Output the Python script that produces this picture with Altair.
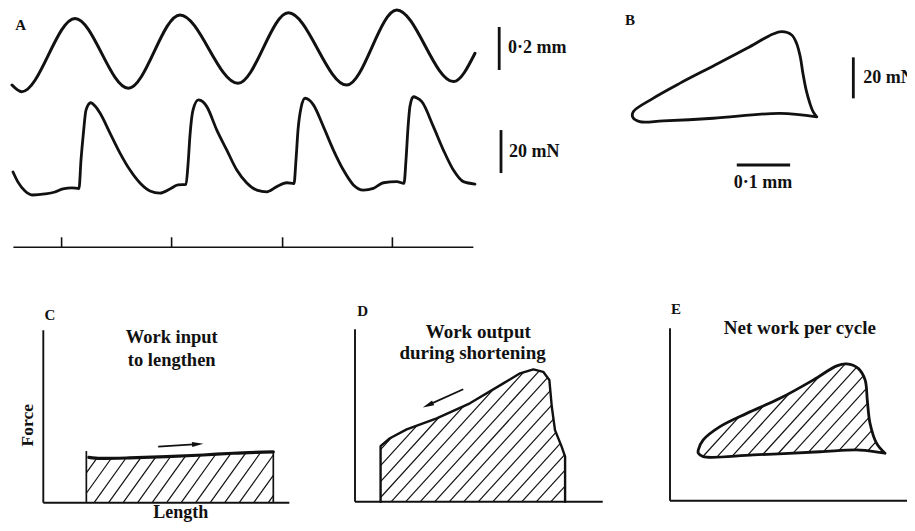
import math
import altair as alt
import pandas as pd

# ---------------- values ----------------
# Panel A, upper trace: imposed length change (mm) against time (ms)
A_len_t = [0, 4.85, 31.5, 58.2, 84, 113, 138.2, 167.4, 192.4, 220.7, 231.5]
A_len_mm = [-0.163, -0.194, 0.147, -0.178, 0.163, -0.155, 0.173, -0.163, 0.186, -0.147, -0.015]

# Panel A, lower trace: force (mN) against time (ms)
A_force_t = [0.5, 3, 6.5, 10.5, 16.5, 21.5, 25.5, 30, 33.5,
             34.5, 35.7, 37, 39.4, 41.5, 44, 49, 54, 59, 64, 69, 74, 79, 83, 87,
             88, 89, 90.5, 93.2, 95.5, 97.4, 102.4, 107.4, 112.4, 117.4, 122.4, 127.4, 132.4, 137.4, 141,
             142, 143, 144.5, 146.5, 148.5, 150.7, 155.7, 160.7, 165.7, 170.7, 175.7, 180.7, 185.7, 192.4, 196,
             197, 198, 199, 200.7, 202.5, 204.9, 210.7, 215.7, 220.7, 225.7, 231.5]
A_force_mN = [10.7, 6.0, 1.9, 0.0, 0.5, 1.4, 2.8, 3.3, 3.0,
              16.3, 28.8, 39.5, 42.9, 41.4, 38.1, 28.8, 19.5, 11.6, 5.6, 1.9, 0.9, 2.8, 4.7, 4.9,
              14.0, 27.9, 39.5, 44.2, 43.3, 41.1, 30.2, 20.9, 11.6, 5.6, 2.3, 1.5, 3.9, 5.7, 5.3,
              16.3, 30.2, 40.5, 45.0, 44.2, 41.9, 31.8, 20.9, 11.6, 4.7, 2.3, 3.1, 5.7, 6.2, 5.4,
              16.3, 31.2, 41.4, 45.7, 45.1, 43.4, 31.8, 20.9, 11.6, 6.2, 5.1]

# Panel A, stimulus marker line (ms)
A_stim_t = [24.8, 79.8, 135.3, 190.2]
A_time_span = [0.7, 230.7]

# Scale bars of panel A
A_len_bar_mm = [-0.093, 0.107]      # 0·2 mm
A_force_bar_mN = [10.2, 30.2]       # 20 mN

# Panel B: work loop, force (mN) against length (mm)
B_len_mm = [0.174, 0.167, 0.161, 0.154, 0.148, 0.143, 0.136, 0.127, 0.108, 0.092, 0.043,
            -0.020, -0.083, -0.133, -0.170, -0.171, -0.158, -0.114, -0.020, 0.105, 0.174]
B_force_mN = [4.0, 6.5, 10.6, 17.1, 25.2, 33.3, 39.9, 43.9, 45.5, 44.4, 37.4,
              28.8, 20.3, 13.0, 6.5, 3.8, 1.6, 2.0, 3.3, 5.7, 4.0]
B_force_bar_mN = [13.0, 33.0]       # 20 mN
B_len_bar_mm = [0.024, 0.124]       # 0·1 mm

# Panels C, D, E: schematic force / length (arbitrary units)
C_top_u = [17.5, 18.5, 23.2, 35, 50.2, 65, 77.2, 93.5]
C_top_v = [21.0, 18.4, 18.0, 18.2, 18.7, 19.4, 20.1, 20.7]
C_arrow_u = [46.7, 64.8]
C_arrow_v = [22.8, 23.9]

D_u = [10.4, 10.4, 14.2, 21.0, 33.2, 46.7, 60.3, 67.1, 72.5, 76.5, 79.0, 80.0, 81.3, 84.0, 85.4, 85.4]
D_v = [0, 22.6, 25.8, 29.4, 33.9, 40.0, 48.1, 52.2, 53.8, 52.8, 49.5, 38.6, 29.1, 22.4, 18.3, 0]
D_arrow_u = [44.0, 27.8]
D_arrow_v = [45.7, 38.4]

E_u = [87.4, 84.0, 81.3, 80.2, 79.3, 76.5, 71.8, 67.8, 58.3, 44.7, 31.2, 20.3, 13.5, 11.5, 11.5,
       13.5, 33.9, 61.0, 77.2, 87.4]
E_v = [19.3, 23.3, 31.5, 40.9, 49.1, 53.8, 55.6, 54.8, 49.1, 41.6, 35.5, 30.1, 24.7, 20.6, 19.3,
       17.9, 18.6, 19.9, 20.6, 19.3]

# ---------------- layout (image pixels) ----------------
OFF = 8
INK = "#111111"
FONT = "Liberation Serif"
SCALES = {
    "A_t": ([0, 250], [12, 512]),
    "A_len": ([-0.2, 0.2], [93, 7]),
    "A_force": ([0, 50], [195, 87.5]),
    "A_stim": ([0, 1], [247.3, 237.3]),
    "B_len": ([-0.2, 0.3], [617.3, 884]),
    "B_force": ([-20, 60], [166, 2]),
    "C_u": ([0, 100], [43.3, 289.3]),
    "C_v": ([0, 70], [502.7, 330.5]),
    "D_u": ([0, 100], [355, 601]),
    "D_v": ([0, 70], [501.7, 329.5]),
    "E_u": ([0, 100], [670, 916]),
    "E_v": ([0, 70], [500.7, 328.5]),
}
PX_PER_UNIT = 2.46  # C, D, E


def scale(key):
    dom, rng = SCALES[key]
    return alt.Scale(domain=dom, range=[rng[0] - OFF, rng[1] - OFF], nice=False, zero=False)


def X(field, key):
    return alt.X(field, type="quantitative", scale=scale(key), axis=None)


def Y(field, key):
    return alt.Y(field, type="quantitative", scale=scale(key), axis=None)


def line_layer(xs, ys, xkey, ykey, width, interp="linear"):
    df = pd.DataFrame({"x": xs, "y": ys, "i": list(range(len(xs)))})
    return alt.Chart(df).mark_line(color=INK, strokeWidth=width, interpolate=interp,
                                   strokeCap="round", strokeJoin="round").encode(
        x=X("x", xkey), y=Y("y", ykey), order=alt.Order("i", type="quantitative"))


def rule_layer(segs, xkey, ykey, width):
    df = pd.DataFrame(segs, columns=["x", "y", "x2", "y2"])
    return alt.Chart(df).mark_rule(color=INK, strokeWidth=width, strokeCap="butt").encode(
        x=X("x", xkey), y=Y("y", ykey), x2=alt.X2("x2"), y2=alt.Y2("y2"))


def text_layer(items, xkey, ykey, size=18, align="center", angle=0):
    df = pd.DataFrame(items, columns=["x", "y", "label"])
    kw = dict(font=FONT, fontSize=size, fontWeight="bold", align=align, baseline="middle",
              color=INK)
    if angle:
        kw["angle"] = angle
    return alt.Chart(df).mark_text(**kw).encode(
        x=X("x", xkey), y=Y("y", ykey), text="label:N")


def hatch(us, vs, spacing, slope):
    g = [slope * u - v for u, v in zip(us, vs)]
    step = slope * spacing
    segs = []
    c = math.floor(min(g) / step) * step + step / 2
    n = len(us)
    while c < max(g):
        pts = []
        for i in range(n):
            j = (i + 1) % n
            d1, d2 = g[i] - c, g[j] - c
            if (d1 < 0) != (d2 < 0):
                t = d1 / (d1 - d2)
                pts.append((us[i] + t * (us[j] - us[i]), vs[i] + t * (vs[j] - vs[i])))
        pts.sort()
        for k in range(0, len(pts) - 1, 2):
            segs.append([pts[k][0], pts[k][1], pts[k + 1][0], pts[k + 1][1]])
        c += step
    return segs


ARROW = "M0,-1L0.45,1L-0.45,1Z"


def arrow_layers(us, vs, xkey, ykey):
    du, dv = us[1] - us[0], vs[1] - vs[0]
    ln = math.hypot(du, dv)
    back = 5 / PX_PER_UNIT
    cu, cv = us[1] - du / ln * back, vs[1] - dv / ln * back
    ang = math.degrees(math.atan2(du, dv)) % 360
    shaft = rule_layer([[us[0], vs[0], cu, cv]], xkey, ykey, 1.8)
    df = pd.DataFrame({"x": [cu], "y": [cv], "a": [ang]})
    head = alt.Chart(df).mark_point(shape=ARROW, filled=True, size=130, color=INK, opacity=1,
                                    strokeWidth=0).encode(
        x=X("x", xkey), y=Y("y", ykey), angle=alt.Angle("a", type="quantitative", scale=None))
    return [shaft, head]


layers = []

# ---- Panel A
layers.append(line_layer(A_len_t, A_len_mm, "A_t", "A_len", 3.0, "monotone"))
layers.append(line_layer(A_force_t, A_force_mN, "A_t", "A_force", 2.8, "monotone"))
layers.append(rule_layer([[A_time_span[0], 0, A_time_span[1], 0]] +
                         [[t, 0, t, 1] for t in A_stim_t], "A_t", "A_stim", 1.6))
layers.append(rule_layer([[243.6, A_len_bar_mm[0], 243.6, A_len_bar_mm[1]]], "A_t", "A_len", 2.8))
layers.append(rule_layer([[244.5, A_force_bar_mN[0], 244.5, A_force_bar_mN[1]]], "A_t", "A_force", 2.8))
layers.append(text_layer([[248.0, 0.007, "0·2 mm"]], "A_t", "A_len", 18, "left"))
layers.append(text_layer([[248.5, 20.0, "20 mN"]], "A_t", "A_force", 18, "left"))
layers.append(text_layer([[4.3, 0.115, "A"]], "A_t", "A_len", 15))

# ---- Panel B
layers.append(line_layer(B_len_mm, B_force_mN, "B_len", "B_force", 2.8, "catmull-rom"))
layers.append(rule_layer([[0.2425, B_force_bar_mN[0], 0.2425, B_force_bar_mN[1]]], "B_len", "B_force", 2.8))
layers.append(rule_layer([[B_len_bar_mm[0], -19.5, B_len_bar_mm[1], -19.5]], "B_len", "B_force", 2.8))
layers.append(text_layer([[0.261, 23.0, "20 mN"]], "B_len", "B_force", 18, "left"))
layers.append(text_layer([[0.073, -28.4, "0·1 mm"]], "B_len", "B_force", 18))
layers.append(text_layer([[-0.176, 51.2, "B"]], "B_len", "B_force", 15))

# ---- Panel C
C_poly_u = [C_top_u[0], C_top_u[0]] + C_top_u[1:] + [C_top_u[-1]]
C_poly_v = [0, C_top_v[1]] + C_top_v[1:] + [0]
layers.append(rule_layer(hatch(C_poly_u, C_poly_v, 5.9, 1.4), "C_u", "C_v", 1.2))
layers.append(rule_layer([[C_top_u[0], 0, C_top_u[0], C_top_v[0]],
                          [C_top_u[-1], 0, C_top_u[-1], C_top_v[-1]]], "C_u", "C_v", 1.7))
layers.append(line_layer(C_top_u[1:], C_top_v[1:], "C_u", "C_v", 3.2, "monotone"))
layers.append(rule_layer([[0, 0, 0, 70.1], [0, 0, 100, 0]], "C_u", "C_v", 1.9))
layers += arrow_layers(C_arrow_u, C_arrow_v, "C_u", "C_v")
layers.append(text_layer([[52.2, 67.5, "Work input"], [52.2, 58.0, "to lengthen"]],
                         "C_u", "C_v", 18.5))
layers.append(text_layer([[55.9, -4.3, "Length"]], "C_u", "C_v", 18))
layers.append(text_layer([[-6.1, 31.5, "Force"]], "C_u", "C_v", 17.5, angle=270))
layers.append(text_layer([[2.7, 76.3, "C"]], "C_u", "C_v", 15))

# ---- Panel D
layers.append(rule_layer(hatch(D_u, D_v, 5.9, 1.1), "D_u", "D_v", 1.2))
layers.append(line_layer(D_u, D_v, "D_u", "D_v", 2.4, "linear"))
layers.append(rule_layer([[0, 0, 0, 70.1], [0, 0, 100.7, 0]], "D_u", "D_v", 1.9))
layers += arrow_layers(D_arrow_u, D_arrow_v, "D_u", "D_v")
layers.append(text_layer([[50.1, 69.1, "Work output"], [47.8, 60.3, "during shortening"]],
                         "D_u", "D_v", 19))
layers.append(text_layer([[3.1, 77.6, "D"]], "D_u", "D_v", 15))

# ---- Panel E
layers.append(rule_layer(hatch(E_u, E_v, 5.9, 1.1), "E_u", "E_v", 1.2))
layers.append(line_layer(E_u, E_v, "E_u", "E_v", 2.8, "catmull-rom"))
layers.append(rule_layer([[0, 0, 0, 70.1], [0, 0, 100, 0]], "E_u", "E_v", 1.9))
layers.append(text_layer([[52.8, 70.1, "Net work per cycle"]], "E_u", "E_v", 19))
layers.append(text_layer([[2.4, 77.8, "E"]], "E_u", "E_v", 15))

chart = alt.layer(*layers).resolve_scale(x="independent", y="independent").properties(
    width=899, height=515, autosize=alt.AutoSizeParams(type="none"), padding=0,
    background="white").configure_view(stroke=None)

chart.save("out.html", embed_options={"renderer": "svg", "actions": False})
